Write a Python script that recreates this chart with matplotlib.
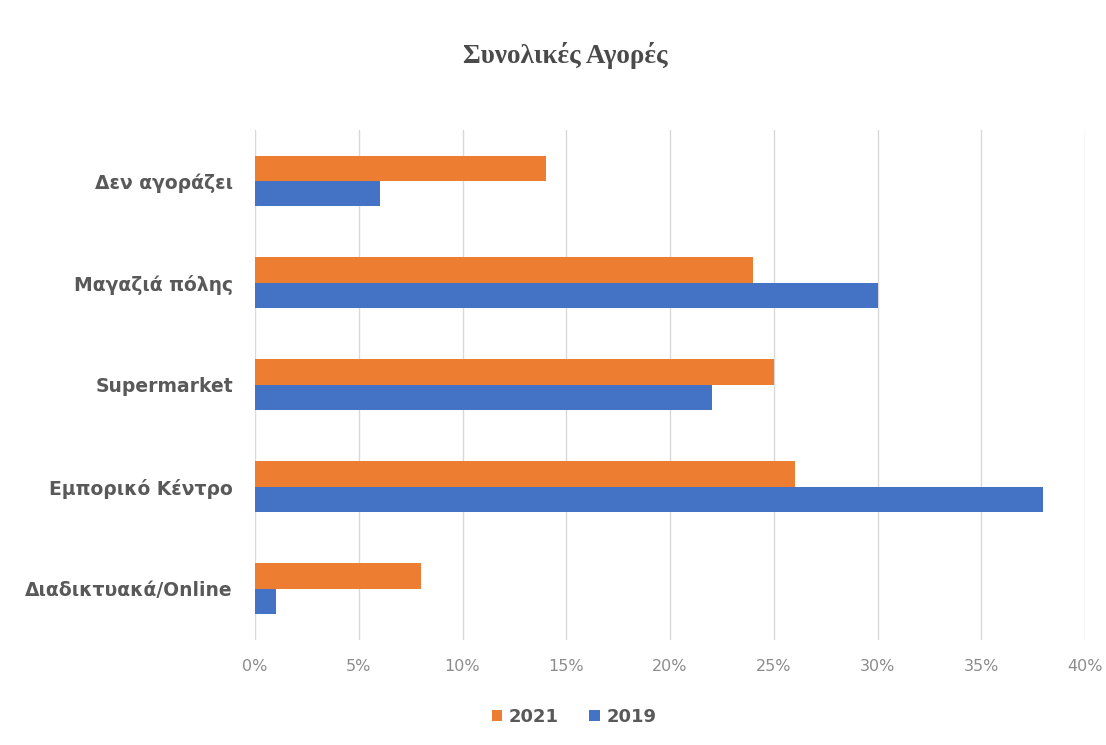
import matplotlib
matplotlib.use("Agg")
import matplotlib.pyplot as plt
import numpy as np

categories = ["Διαδικτυακά/Online", "Εμπορικό Κέντρο", "Supermarket", "Μαγαζιά πόλης", "Δεν αγοράζει"]
values_2021 = [8, 26, 25, 24, 14]
values_2019 = [1, 38, 22, 30, 6]
ticks = [0, 5, 10, 15, 20, 25, 30, 35, 40]
tick_labels = ["0%", "5%", "10%", "15%", "20%", "25%", "30%", "35%", "40%"]

c2021 = "#ED7D31"
c2019 = "#4472C4"

fig = plt.figure(figsize=(11.06, 7.45), dpi=100)
ax = fig.add_axes([0.2306, 0.141, 0.7504, 0.6845])

y = np.arange(len(categories))
h = 0.25
ax.barh(y + h / 2, values_2021, height=h, color=c2021, label="2021", zorder=3)
ax.barh(y - h / 2, values_2019, height=h, color=c2019, label="2019", zorder=3)

ax.set_xlim(0, 40)
ax.set_ylim(-0.5, 4.5)
ax.set_xticks(ticks)
ax.set_xticklabels(tick_labels, fontsize=11.5, color="#8c8c8c")
ax.set_yticks(y)
ax.set_yticklabels(categories, fontsize=13.5, fontweight="bold", color="#595959")
ax.tick_params(axis="both", length=0)
ax.tick_params(axis="x", pad=14)
ax.tick_params(axis="y", pad=16)
ax.grid(axis="x", color="#d9d9d9", linewidth=1, zorder=0)
for s in ax.spines.values():
    s.set_visible(False)

fig.text(0.511, 0.926, "Συνολικές Αγορές", ha="center", va="center",
         fontsize=19.5, fontweight="bold", family="Liberation Serif", color="#4a4a4a")

fig.legend(loc="center", bbox_to_anchor=(0.519, 0.038), ncol=2, frameon=False,
           handlelength=0.6, handleheight=0.6, handletextpad=0.35,
           columnspacing=1.7, prop={"weight": "bold", "size": 13}, labelcolor="#595959")

fig.savefig("out.png", dpi=100)
